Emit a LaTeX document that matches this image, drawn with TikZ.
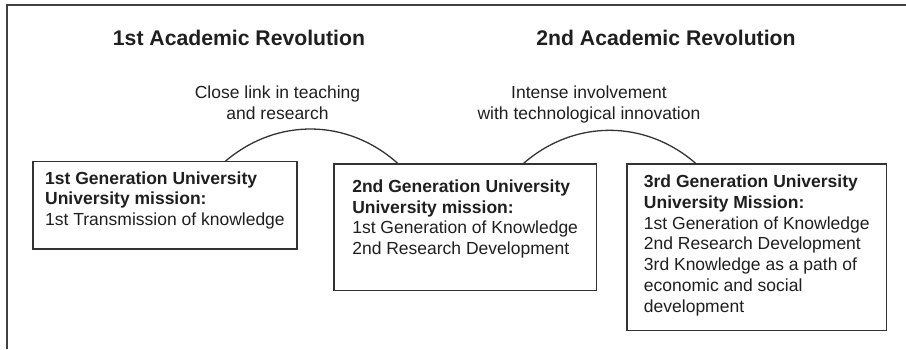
\documentclass[tikz,border=0pt]{standalone}
\usepackage{fontspec}
\setmainfont{Liberation Sans}
\usepackage{tikz}

\begin{document}
\begin{tikzpicture}[x = 1pt, y = 1pt, line width = 1.3pt, text = black!88,
                        title/.style = {anchor = base, font = \fontsize{21.2}{25}\selectfont\bfseries},
                        link/.style = {anchor = base, align = center, font = \fontsize{17.5}{21}\selectfont},
                        genbox/.style = {draw = black!80, anchor = north west, align = left, inner sep = 0pt,
                                         font = \fontsize{17.5}{20.8}\selectfont}]
    \useasboundingbox (0, 0) rectangle (906, -349);
    \draw [line width = 2pt, black!75] (906, -5) -| (7, -349);
    \node [title] (r1) at (239, -45.7) {1st Academic Revolution};
    \node [title] (r2) at (666, -45.7) {2nd Academic Revolution};
    \node [link] (l1) at (277.5, -119.3) {Close link in teaching\\and research};
    \node [link] (l2) at (589, -119.3) {Intense involvement\\with technological innovation};
    \node [genbox, minimum width = 264, text height = 64, text depth = 23.3] (b1) at (32.3, -161)
        {\textbf{1st Generation University}\\\textbf{University mission:}\\1st Transmission of knowledge};
    \node [genbox, minimum width = 262.4, text height = 90.7, text depth = 36] (b2) at (333.3, -163.3)
        {\textbf{2nd Generation University}\\\textbf{University mission:}\\1st Generation of Knowledge\\2nd Research Development};
    \node [genbox, minimum width = 259.7, text height = 148.4, text depth = 18.3] (b3) at (626.3, -163.3)
        {\textbf{3rd Generation University}\\\textbf{University Mission:}\\1st Generation of Knowledge\\2nd Research Development\\3rd Knowledge as a path of\\economic and social\\development};
    \draw [black!80] ([xshift = 60.7]b1.north) edge [bend left = 41] ([xshift = -67.5]b2.north);
    \draw [black!80] ([xshift = 58.5]b2.north) edge [bend left = 41] ([xshift = -61.2]b3.north);
\end{tikzpicture}
\end{document}
